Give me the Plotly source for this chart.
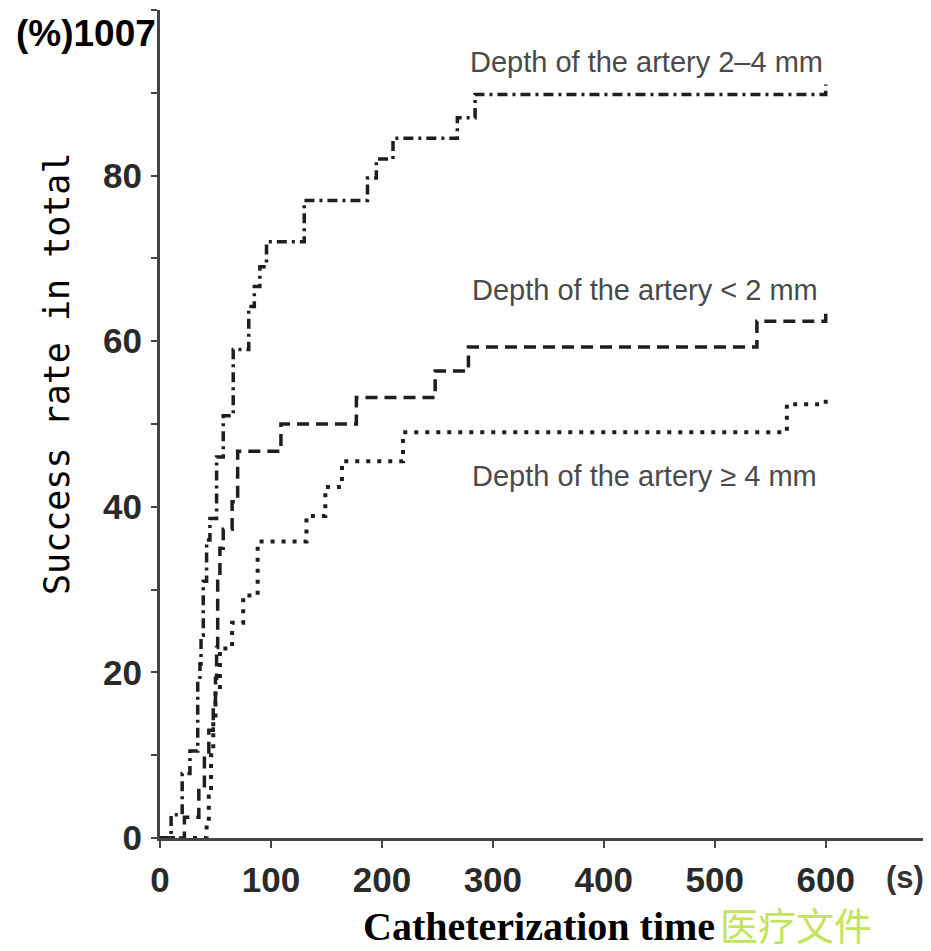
import plotly.graph_objects as go

# ---- data ----
a_time = [0, 10, 20, 27, 34, 36, 37, 39, 42, 45, 51, 57, 66, 80, 85, 90, 96, 130, 187, 195, 210, 268, 284, 600]
a_rate = [0, 2.8, 7.8, 10.5, 19, 21, 24.5, 31, 36, 38.6, 46, 51, 59, 64.2, 66.6, 69, 72, 77, 79.7, 82, 84.5, 87, 89.8, 91]

b_time = [0, 22, 35, 40, 44, 48, 50, 51, 52, 54, 57, 65, 70, 109, 177, 248, 278, 538, 600]
b_rate = [0, 2.5, 6, 10, 13, 16.5, 19.3, 23, 31, 35, 37.3, 40.6, 46.7, 50, 53.2, 56.4, 59.3, 62.4, 63.6]

c_time = [0, 42, 44, 46, 48, 50, 54, 65, 75, 88, 132, 149, 164, 219, 565, 600]
c_rate = [0, 1.5, 5, 10, 14, 18, 22.9, 26, 29.3, 35.8, 38.9, 42.4, 45.5, 49, 52.4, 53]

series_names = ["Depth of the artery 2\u20134 mm", "Depth of the artery < 2 mm", "Depth of the artery \u2265 4 mm"]

y_tickvals = [0, 10, 20, 30, 40, 50, 60, 70, 80, 90, 100]
y_ticktext = ["0", "", "20", "", "40", "", "60", "", "80", "", ""]
x_tickvals = [0, 100, 200, 300, 400, 500, 600]
x_ticktext = ["0", "100", "200", "300", "400", "500", "600"]

y_title = "Success rate in total"
x_title = "Catheterization time"
watermark = "医疗文件"
top_label = "(%)1007"
x_unit = "(s)"

# page has an 8px body margin; plot area: page x 160..930, page y 10..838
OFF = 8
PL, PR, PT, PB = 160, 930, 10, 838
PW, PH = PR - PL, PB - PT


def px(xp):
    return (xp - PL) / PW


def py(yp):
    return (PB - yp) / PH


fig = go.Figure()
line_col = "#1e1e1e"
fig.add_trace(go.Scatter(x=a_time, y=a_rate, mode="lines", line_shape="hv",
                         line=dict(color=line_col, width=3.5, dash="10px,5px,3px,5px"),
                         name=series_names[0]))
fig.add_trace(go.Scatter(x=b_time, y=b_rate, mode="lines", line_shape="hv",
                         line=dict(color=line_col, width=3.5, dash="12px,7px"),
                         name=series_names[1]))
fig.add_trace(go.Scatter(x=c_time, y=c_rate, mode="lines", line_shape="hv",
                         line=dict(color=line_col, width=4, dash="4px,7px"),
                         name=series_names[2]))

label_font = dict(family="Liberation Sans, Arial, sans-serif", size=29, color="#4a4a4a")
label_pos = [(468, 62), (470, 290), (470, 476)]
for name, (lx, ly) in zip(series_names, label_pos):
    fig.add_annotation(text=name, xref="paper", yref="paper",
                       x=px(lx), y=py(ly),
                       xanchor="left", yanchor="middle", showarrow=False, font=label_font)

fig.add_annotation(text=top_label, xref="paper", yref="paper",
                   x=px(157), y=py(33), xanchor="right", yanchor="middle",
                   showarrow=False, bgcolor="white", borderpad=0,
                   font=dict(family="Liberation Sans, Arial", size=37, color="black", weight="bold"))

fig.add_annotation(text=y_title, xref="paper", yref="paper",
                   x=px(57), y=py(374), xanchor="center", yanchor="middle",
                   textangle=-90, showarrow=False,
                   font=dict(family="DejaVu Sans Mono, monospace", size=35, color="black"))

fig.add_annotation(text=x_unit, xref="paper", yref="paper",
                   x=px(905), y=py(877), xanchor="center", yanchor="middle",
                   showarrow=False,
                   font=dict(family="Liberation Sans, Arial", size=31, color="#333333", weight="bold"))

fig.add_annotation(text=x_title, xref="paper", yref="paper",
                   x=px(716), y=py(926), xanchor="right", yanchor="middle",
                   showarrow=False, borderpad=0,
                   font=dict(family="Liberation Serif, Times New Roman, serif", size=40, color="black", weight="bold"))

fig.add_annotation(text=watermark, xref="paper", yref="paper",
                   x=px(719), y=py(923), xanchor="left", yanchor="middle",
                   showarrow=False, borderpad=0,
                   font=dict(family="Noto Sans CJK SC", size=38, color="#c3e35a"))

fig.update_layout(
    width=931 - OFF, height=951 - OFF,
    margin=dict(l=PL - OFF, r=931 - PR, t=PT - OFF, b=951 - PB),
    paper_bgcolor="white", plot_bgcolor="white",
    showlegend=False,
    xaxis=dict(range=[0, 694], tickvals=x_tickvals, ticktext=x_ticktext,
               showline=True, linecolor="#444444", linewidth=3,
               ticks="outside", ticklen=7, tickwidth=2, tickcolor="#444444",
               ticklabelstandoff=2, showgrid=False, zeroline=False,
               tickfont=dict(family="Liberation Sans, Arial", size=35, color="#2a2a2a", weight="bold")),
    yaxis=dict(range=[0, 100], tickvals=y_tickvals, ticktext=y_ticktext,
               showline=True, linecolor="#444444", linewidth=3,
               ticks="outside", ticklen=6, tickwidth=2, tickcolor="#444444",
               ticklabelstandoff=2, showgrid=False, zeroline=False,
               tickfont=dict(family="Liberation Sans, Arial", size=35, color="#2a2a2a", weight="bold")),
)

fig.write_html("out.html")
